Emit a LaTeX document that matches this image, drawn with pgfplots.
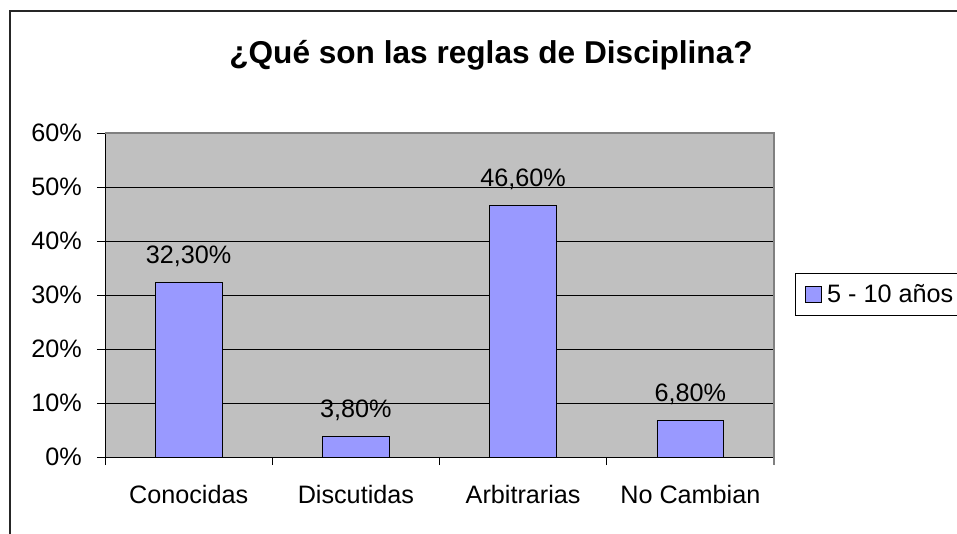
\documentclass[border=0pt]{standalone}
\usepackage{fontspec}
\setmainfont{Liberation Sans}
\usepackage{pgfplots}
\pgfplotsset{compat=1.18}

\definecolor{plotgray}{HTML}{C0C0C0}
\definecolor{barblue}{HTML}{9999FF}
\definecolor{framegray}{HTML}{808080}

\newcommand\lbl{\fontsize{25.2}{30}\selectfont}

\begin{document}
\begin{tikzpicture}[x=1pt,y=1pt]
\path[use as bounding box] (0,0) rectangle (957,533);
% chart frame (only left and top edges show)
\draw[line width=1.2pt, black!85] (10,-2) -- (10,522) -- (959,522);
\node[font=\fontsize{31.6}{38}\selectfont\bfseries, anchor=base] at (491,469.7)
  {¿Qué son las reglas de Disciplina?};

\begin{axis}[
  at={(105pt,76pt)}, anchor=south west,
  scale only axis, width=669pt, height=324pt,
  xmin=-0.5, xmax=3.5, ymin=0, ymax=60,
  ybar, bar width=0.4,
  axis background/.style={fill=plotgray},
  axis x line*=bottom, axis y line*=left,
  axis line style={black, line width=1pt},
  tick align=outside, major tick length=8pt,
  tick style={black, line width=0.8pt},
  ytick={0,10,...,60},
  yticklabels={0\%,10\%,20\%,30\%,40\%,50\%,60\%},
  ymajorgrids, major grid style={black, line width=0.8pt},
  xtick={-0.5,0.5,1.5,2.5,3.5}, xticklabels={},
  extra x ticks={0,1,2,3},
  extra x tick labels={Conocidas,Discutidas,Arbitrarias,No Cambian},
  extra x tick style={major tick length=0pt},
  xticklabel style={font=\lbl, anchor=base, yshift=-46pt, inner sep=0pt},
  yticklabel style={font=\lbl, anchor=east, inner sep=0pt, xshift=-15pt},
  point meta=explicit symbolic,
  nodes near coords,
  every node near coord/.append style={font=\lbl, anchor=base, yshift=19pt, inner sep=0pt},
  legend style={at={(1.0314,0.567)}, anchor=north west, draw=black, line width=0.8pt,
    fill=white, font=\lbl, inner xsep=10pt, inner ysep=9pt},
  legend cell align=left,
]
\addplot[fill=barblue, draw=black, line width=0.8pt,
  legend image code/.code={\draw[fill=barblue, draw=black, line width=0.6pt] (0pt,-8pt) rectangle (16pt,8pt);
    \path (19pt,0pt);}]
  coordinates {(0,32.3)[32,30\%] (1,3.8)[3,80\%] (2,46.6)[46,60\%] (3,6.8)[6,80\%]};
\addlegendentry{\makebox[150pt][l]{5 - 10 años}}
\end{axis}
\draw[framegray, line width=1.2pt] (105,400) -- (774,400) -- (774,68);
\end{tikzpicture}
\end{document}
